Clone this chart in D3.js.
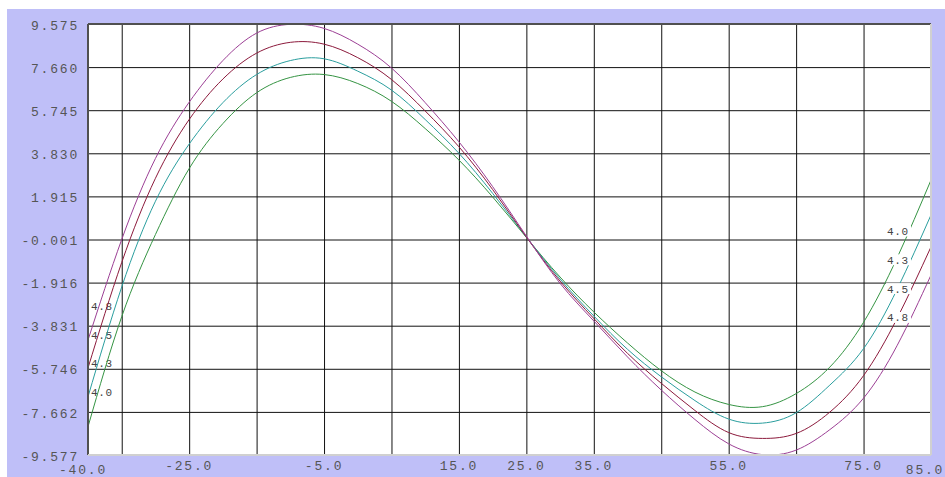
<!DOCTYPE html>
<html>
<head>
<meta charset="utf-8">
<script src="https://cdn.jsdelivr.net/npm/d3@7"></script>
<style>
  body { margin: 0; background: #fff; }
  text { font-family: 'Liberation Mono', 'Courier New', monospace; }
</style>
</head>
<body>
<script>
// data
const xValues = [-40, -35, -30, -25, -20, -15, -10, -5, 0, 5, 10, 15, 20, 25, 30, 35, 40, 45, 50, 55, 60, 65, 70, 75, 80, 85];
const series40 = [-8.32, -3.43, 0.22, 3.15, 5.15, 6.52, 7.20, 7.33, 6.93, 6.14, 4.93, 3.53, 1.89, 0.09, -1.67, -3.22, -4.60, -5.83, -6.78, -7.33, -7.43, -6.85, -5.67, -3.68, -0.80, 2.64];
const series43 = [-6.99, -2.11, 1.70, 4.24, 6.08, 7.33, 7.95, 8.03, 7.48, 6.64, 5.33, 3.83, 2.05, 0.11, -1.76, -3.40, -4.88, -6.10, -7.16, -7.98, -8.16, -7.70, -6.47, -4.85, -2.20, 1.09];
const series45 = [-5.71, -1.02, 2.72, 5.33, 7.13, 8.28, 8.76, 8.68, 8.08, 7.11, 5.71, 4.12, 2.22, 0.11, -1.85, -3.51, -5.06, -6.39, -7.60, -8.58, -8.84, -8.62, -7.67, -6.05, -3.49, -0.33];
const series48 = [-4.47, 0.00, 3.60, 6.10, 7.95, 9.17, 9.56, 9.38, 8.68, 7.62, 6.08, 4.34, 2.35, 0.15, -1.95, -3.62, -5.22, -6.69, -8.00, -9.08, -9.56, -9.36, -8.45, -7.05, -4.70, -1.58];
const seriesNames = ['4.0', '4.3', '4.5', '4.8'];

const yTickLabels = ['9.575', '7.660', '5.745', '3.830', '1.915', '-0.001', '-1.916', '-3.831', '-5.746', '-7.662', '-9.577'];
const xGridValues = [-35, -25, -15, -5, 5, 15, 25, 35, 45, 55, 65, 75];
const xTickLabels = ['-40.0', '-25.0', '-5.0', '15.0', '25.0', '35.0', '55.0', '75.0', '85.0'];

// canvas
const width = 945;
const height = 477;
const margin = { top: 24, left: 88, bottom: 22, right: 14 };
const colors = ['#359443', '#2a9e9e', '#8c1a3c', '#9c3f95'];

const svg = d3.select('body').append('svg').attr('width', width).attr('height', height);

svg.append('rect').attr('x', 7).attr('y', 9).attr('width', width - 7).attr('height', height - 9).attr('fill', '#bfbff8');

const x = d3
  .scaleLinear()
  .domain([-40, 85])
  .range([margin.left, width - margin.right]);

const y = d3
  .scaleLinear()
  .domain([-9.577, 9.575])
  .range([height - margin.bottom, margin.top]);

const plotW = width - margin.right - margin.left;
const plotH = height - margin.bottom - margin.top;

svg.append('rect').attr('x', margin.left).attr('y', margin.top).attr('width', plotW).attr('height', plotH).attr('fill', '#fff');

// grid + y labels
const yAxis = (g) =>
  g
    .attr('transform', `translate(${margin.left}, 0)`)
    .call(
      d3
        .axisLeft(y)
        .tickValues(yTickLabels.map(Number))
        .tickFormat((d, i) => yTickLabels[i])
        .tickSize(-plotW)
        .tickPadding(9)
    )
    .call((g) => g.select('.domain').remove())
    .call((g) => g.selectAll('line').attr('stroke', '#111'))
    .call((g) =>
      g
        .selectAll('text')
        .attr('dy', '0.4em')
        .attr('fill', '#555')
        .attr('font-size', '13px')
        .attr('letter-spacing', '1.8px')
        .attr('font-family', "'Liberation Mono', monospace")
    );

const xGrid = (g) =>
  g
    .attr('transform', `translate(0, ${height - margin.bottom})`)
    .call(d3.axisBottom(x).tickValues(xGridValues).tickSize(-plotH).tickFormat(''))
    .call((g) => g.select('.domain').remove())
    .call((g) => g.selectAll('line').attr('stroke', '#111'));

svg.append('g').call(xGrid);
svg.append('g').call(yAxis);

// x labels, the two end ones sit lower
const last = xTickLabels.length - 1;
svg
  .append('g')
  .selectAll('text')
  .data(xTickLabels)
  .enter()
  .append('text')
  .text((d) => d)
  .attr('x', (d, i) => x(+d) + (i === 0 ? -5 : i === last ? -6 : 0))
  .attr('y', (d, i) => (i === 0 || i === last ? height - 3 : height - 7))
  .attr('text-anchor', 'middle')
  .attr('fill', '#555')
  .attr('font-size', '13px')
  .attr('letter-spacing', '1.8px');

// left labels (lines drawn over them)
const leftOrder = [3, 2, 1, 0];
svg
  .append('g')
  .selectAll('text')
  .data(leftOrder)
  .enter()
  .append('text')
  .text((d) => seriesNames[d])
  .attr('x', margin.left + 3)
  .attr('y', (d, i) => 310 + i * 28.7)
  .attr('fill', '#444')
  .attr('font-size', '11px')
  .attr('letter-spacing', '0.6px');

// curves
const allSeries = [series40, series43, series45, series48];
const line = d3
  .line()
  .x((d, i) => x(xValues[i]))
  .y((d) => y(d))
  .curve(d3.curveNatural);

svg.append('clipPath').attr('id', 'plot').append('rect').attr('x', margin.left).attr('y', margin.top).attr('width', plotW).attr('height', plotH);

svg
  .append('g')
  .attr('clip-path', 'url(#plot)')
  .selectAll('path')
  .data(allSeries)
  .enter()
  .append('path')
  .attr('fill', 'none')
  .attr('stroke', (d, i) => colors[i])
  .attr('stroke-width', 1)
  .attr('d', line);

// right labels with white boxes
const right = svg
  .append('g')
  .selectAll('g')
  .data([0, 1, 2, 3])
  .enter()
  .append('g')
  .attr('transform', (d, i) => `translate(887, ${231.5 + i * 28.8})`);

right.append('rect').attr('x', -1).attr('y', -6).attr('width', 25).attr('height', 11).attr('fill', '#fff');
right
  .append('text')
  .text((d) => seriesNames[d])
  .attr('y', 3.5)
  .attr('fill', '#444')
  .attr('font-size', '11px')
  .attr('letter-spacing', '0.6px');

// plot border
svg.append('line').attr('x1', margin.left).attr('x2', width - margin.right).attr('y1', margin.top).attr('y2', margin.top).attr('stroke', '#505050').attr('stroke-width', 2);
svg.append('line').attr('x1', margin.left).attr('x2', margin.left).attr('y1', margin.top).attr('y2', height - margin.bottom).attr('stroke', '#505050').attr('stroke-width', 2);
svg.append('line').attr('x1', margin.left).attr('x2', width - margin.right).attr('y1', height - margin.bottom).attr('y2', height - margin.bottom).attr('stroke', '#d0d0d0').attr('stroke-width', 2);
svg.append('line').attr('x1', width - margin.right).attr('x2', width - margin.right).attr('y1', margin.top).attr('y2', height - margin.bottom).attr('stroke', '#d0d0d0').attr('stroke-width', 2);
</script>
</body>
</html>
